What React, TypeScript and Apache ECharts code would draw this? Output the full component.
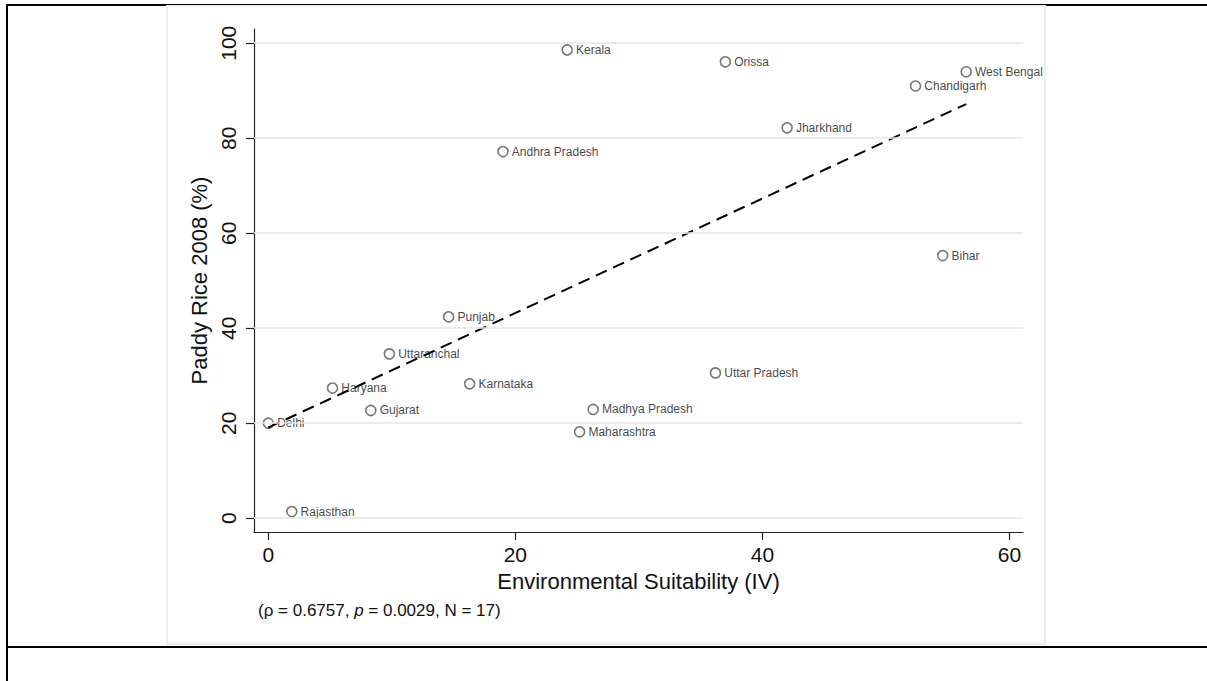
import React, { useEffect, useRef } from "react";
import * as echarts from "echarts";

const states = [
  "Kerala", "Orissa", "West Bengal", "Chandigarh", "Jharkhand", "Andhra Pradesh",
  "Bihar", "Punjab", "Uttaranchal", "Haryana", "Karnataka", "Uttar Pradesh",
  "Gujarat", "Madhya Pradesh", "Maharashtra", "Delhi", "Rajasthan",
];
const suitability = [24.2, 37.0, 56.5, 52.4, 42.0, 19.0, 54.6, 14.6, 9.8, 5.2, 16.3, 36.2, 8.3, 26.3, 25.2, 0.0, 1.9];
const paddyRice = [98.6, 96.1, 94.0, 91.0, 82.2, 77.2, 55.3, 42.4, 34.6, 27.4, 28.3, 30.6, 22.7, 22.9, 18.2, 20.0, 1.4];

const fitX = [0, 56.5];
const fitY = [19.1, 87.2];

const xTicks = [0, 20, 40, 60];
const yTicks = [0, 20, 40, 60, 80, 100];

const xTitle = "Environmental Suitability (IV)";
const yTitle = "Paddy Rice 2008 (%)";
const noteParts = ["(ρ = 0.6757, ", "p", " = 0.0029, N = 17)"];

const FONT = "'Liberation Sans', Arial, Helvetica, sans-serif";

export default function App() {
  const ref = useRef<HTMLDivElement>(null);

  useEffect(() => {
    if (!ref.current) return;
    const chart = echarts.init(ref.current, undefined, { renderer: "svg" });

    const points = states.map((s, i) => ({ name: s, value: [suitability[i], paddyRice[i]] }));
    const fitData = fitX.map((x, i) => [x, fitY[i]]);

    chart.setOption({
      animation: false,
      backgroundColor: "#ffffff",
      textStyle: { fontFamily: FONT },
      graphic: [
        { type: "rect", z: -20, shape: { x: 6, y: 4, width: 1201, height: 2 }, style: { fill: "#000" } },
        { type: "rect", z: -20, shape: { x: 6, y: 4, width: 2, height: 677 }, style: { fill: "#000" } },
        { type: "rect", z: -20, shape: { x: 6, y: 646, width: 1201, height: 2 }, style: { fill: "#000" } },
        {
          type: "rect", z: -10,
          shape: { x: 167, y: 6, width: 878, height: 638 },
          style: { fill: "#ffffff", stroke: "#ededed", lineWidth: 2 },
        },
        {
          type: "text",
          left: 258,
          top: 602,
          style: {
            text: `{a|${noteParts[0]}}{i|${noteParts[1]}}{a|${noteParts[2]}}`,
            rich: {
              a: { fontSize: 17, fontFamily: FONT, fill: "#111" },
              i: { fontSize: 17, fontFamily: FONT, fontStyle: "italic", fill: "#111" },
            },
          },
        },
      ],
      grid: { left: 254, right: 184, top: 29, bottom: 149, containLabel: false },
      xAxis: {
        type: "value",
        min: -1.16,
        max: 61.1,
        name: xTitle,
        nameLocation: "middle",
        nameGap: 38,
        nameTextStyle: { fontSize: 22, color: "#111", fontFamily: FONT },
        axisLine: { show: true, onZero: false, lineStyle: { color: "#222", width: 1.2 } },
        axisTick: { show: true, length: 8, customValues: xTicks, lineStyle: { color: "#222", width: 1.2 } },
        axisLabel: { customValues: xTicks, fontSize: 21, color: "#111", margin: 12, fontFamily: FONT },
        splitLine: { show: false },
      },
      yAxis: {
        type: "value",
        min: -2.9,
        max: 103,
        name: yTitle,
        nameLocation: "middle",
        nameGap: 36,
        nameTextStyle: { fontSize: 22, color: "#111", fontFamily: FONT },
        axisLine: { show: true, onZero: false, lineStyle: { color: "#222", width: 1.2 } },
        axisTick: { show: true, length: 8, customValues: yTicks, lineStyle: { color: "#222", width: 1.2 } },
        axisLabel: { customValues: yTicks, rotate: 90, fontSize: 21, color: "#111", margin: 15, fontFamily: FONT },
        splitLine: { show: false },
      },
      series: [
        {
          type: "scatter",
          data: [],
          z: 0,
          silent: true,
          markLine: {
            silent: true,
            symbol: "none",
            label: { show: false },
            lineStyle: { color: "#e6e6e6", width: 1.6, type: "solid" },
            data: yTicks.map((v) => ({ yAxis: v })),
          },
        },
        {
          type: "scatter",
          z: 2,
          data: points,
          symbol: "circle",
          symbolSize: 10,
          itemStyle: { color: "rgba(0,0,0,0)", borderColor: "#555", borderWidth: 1.6 },
          label: {
            show: true,
            position: "right",
            distance: 3,
            formatter: (p: any) => p.name,
            fontSize: 12,
            color: "#111",
            fontFamily: FONT,
          },
        },
        {
          type: "line",
          z: 3,
          data: fitData,
          symbol: "none",
          lineStyle: { color: "#000", width: 2, type: [12, 7] },
        },
      ],
    });

    return () => chart.dispose();
  }, []);

  return (
    <div
      ref={ref}
      style={{ position: "absolute", left: 0, top: 0, width: 1207, height: 681 }}
    />
  );
}
